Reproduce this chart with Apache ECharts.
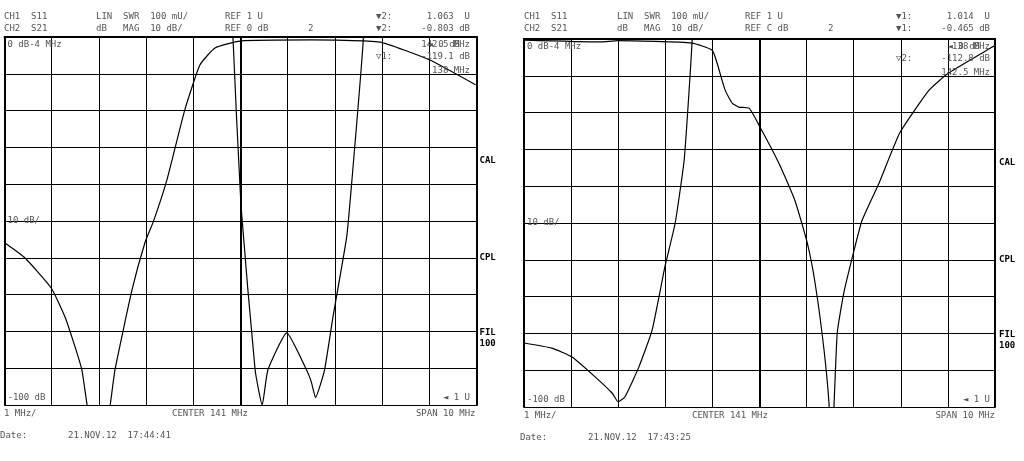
<!DOCTYPE html>
<html>
<head>
<meta charset="utf-8">
<script src="https://cdn.jsdelivr.net/npm/echarts@6/dist/echarts.min.js"></script>
<style>
  html, body { margin: 0; padding: 0; background: #fff; }
  #main { width: 1024px; height: 461px; }
</style>
</head>
<body>
<div id="main"></div>
<script>
// frequency axis (MHz) and scales
let freqTicks = [136, 137, 138, 139, 140, 141, 142, 143, 144, 145, 146]
let dbRange = [-100, 0]
let swrRange = [1, 2]

// left screen, 17:44:41
let leftS21 = [
  [136.01, -56], [136.43, -60], [136.99, -68.2], [137.28, -76], [137.49, -84],
  [137.64, -90.5], [137.75, -100], [138.0, -119.1], [138.24, -100], [138.34, -90.5],
  [138.70, -68.8], [138.98, -55.7], [139.15, -50.3], [139.44, -38.9], [139.82, -19.8],
  [140.14, -7.6], [140.46, -3], [140.99, -1.1], [142.5, -0.8], [143.95, -1.4],
  [145.0, -6.2], [145.98, -13]
]
let leftSwr = [
  [140.8, 2.2], [140.84, 2.0], [141.01, 1.543], [141.31, 1.095], [141.46, 1.0],
  [141.58, 1.095], [141.98, 1.196], [142.40, 1.095], [142.5, 1.063], [142.59, 1.02],
  [142.78, 1.095], [142.96, 1.24], [143.25, 1.457], [143.36, 1.61], [143.6, 1.99],
  [143.62, 2.2]
]

// right screen, 17:43:25
let rightS21 = [
  [136.0, -0.3], [137.61, -0.8], [138.0, -0.465], [139.57, -1.1], [139.99, -3], [140.08, -5.7],
  [140.27, -13.9], [140.42, -17.4], [140.56, -18.5], [140.78, -18.8], [141.01, -23.9],
  [141.41, -33.7], [141.75, -43.8], [142.01, -55.2], [142.18, -66.3], [142.37, -84.5],
  [142.48, -100], [142.5, -112.8], [142.58, -100], [142.65, -79.9], [142.79, -69],
  [143.01, -57.3], [143.18, -49.2], [143.54, -39.1], [143.98, -25.5], [144.6, -13.9],
  [145.02, -9.2], [145.94, -2.2], [146.0, -1.8]
]
let rightSwr = [
  [136.0, 1.174], [136.59, 1.16], [137.02, 1.136], [137.51, 1.082], [137.87, 1.038],
  [138.0, 1.014], [138.14, 1.027], [138.44, 1.109], [138.72, 1.209], [138.99, 1.38],
  [139.21, 1.5], [139.40, 1.67], [139.5, 1.85], [139.57, 2.0], [139.6, 2.2]
]

let mono = '"DejaVu Sans Mono", monospace'
let grey = '#555'

function xAx(gi) {
  return {
    type: 'value', gridIndex: gi, min: freqTicks[0], max: freqTicks[freqTicks.length - 1], interval: 1,
    axisLine: { lineStyle: { color: '#000', width: 2 } },
    axisTick: { show: false }, axisLabel: { show: false },
    splitLine: { lineStyle: { color: '#000', width: 1 } }
  }
}
function yDb(gi) {
  return {
    type: 'value', gridIndex: gi, min: dbRange[0], max: dbRange[1], interval: 10,
    axisLine: { show: true, lineStyle: { color: '#000', width: 2 } },
    axisTick: { show: false }, axisLabel: { show: false },
    splitLine: { lineStyle: { color: '#000', width: 1 } }
  }
}
function ySwr(gi) {
  return {
    type: 'value', gridIndex: gi, min: swrRange[0], max: swrRange[1], position: 'right',
    axisLine: { show: true, lineStyle: { color: '#000', width: 2 } },
    axisTick: { show: false }, axisLabel: { show: false }, splitLine: { show: false }
  }
}
function trace(data, xi, yi, center) {
  let s = {
    type: 'line', xAxisIndex: xi, yAxisIndex: yi, data: data, smooth: 0.15,
    symbol: 'none', lineStyle: { color: '#000', width: 1.2 }, clip: true, animation: false
  }
  if (center) {
    s.markLine = {
      silent: true, symbol: 'none', label: { show: false },
      lineStyle: { color: '#000', width: 2, type: 'solid' },
      data: [{ xAxis: 141 }]
    }
  }
  return s
}
function txt(x, y, s, opt) {
  return {
    type: 'text', left: x, top: y, z: 100,
    style: Object.assign({ text: s, font: '9px ' + mono, fill: grey }, opt || {})
  }
}
function rtxt(x, y, s, opt) {
  return {
    type: 'text', right: 1024 - x, top: y, z: 100,
    style: Object.assign({ text: s, font: '9px ' + mono, fill: grey, align: 'right' }, opt || {})
  }
}
function screen(ox, gx, gy, o) {
  let bold = { font: 'bold 9px ' + mono, fill: '#000' }
  return [
    txt(ox + 4, 12, 'CH1  S11'), txt(ox + 4, 24, 'CH2  S21'),
    txt(ox + o.lin, 12, 'LIN  SWR  100 mU/'), txt(ox + o.lin, 24, 'dB   MAG  10 dB/'),
    txt(ox + o.ref, 12, 'REF 1 U'), txt(ox + o.ref, 24, o.ref2),
    txt(ox + o.m2, 24, '2'),
    txt(ox + o.mk, 12, o.mk1), txt(ox + o.mk, 24, o.mk1),
    rtxt(ox + o.re, 12, o.v1), rtxt(ox + o.re, 24, o.v2),
    txt(gx + 3, gy + 3, '0 dB-4 MHz'),
    rtxt(ox + o.re, gy + 3, o.f1), rtxt(ox + o.re - 10, gy + 3, '◄ 0 dB'),
    txt(ox + o.mk, gy + 15, o.mk2), rtxt(ox + o.re, gy + 15, o.v3),
    rtxt(ox + o.re, gy + 29, o.f2),
    txt(gx + 3, gy + 179, '10 dB/'),
    txt(gx + 3, gy + 356, '-100 dB'), rtxt(ox + o.re, gy + 356, '◄ 1 U'),
    txt(ox + 4, gy + 372, '1 MHz/'), txt(ox + o.ctr, gy + 372, 'CENTER 141 MHz'),
    rtxt(gx + 471, gy + 372, 'SPAN 10 MHz'),
    txt(ox, gy + 394, 'Date:'), txt(ox + 68, gy + 394, o.date),
    txt(gx + 475, gy + 119, 'CAL', bold), txt(gx + 475, gy + 216, 'CPL', bold),
    txt(gx + 475, gy + 291, 'FIL', bold), txt(gx + 475, gy + 302, '100', bold)
  ]
}

let chart = echarts.init(document.getElementById('main'), null, { renderer: 'canvas' })
chart.setOption({
  backgroundColor: '#fff',
  animation: false,
  grid: [
    { left: 4.5, top: 37, width: 472, height: 368 },
    { left: 524, top: 39, width: 471, height: 368 }
  ],
  xAxis: [xAx(0), xAx(1)],
  yAxis: [yDb(0), ySwr(0), yDb(1), ySwr(1)],
  series: [
    trace(leftS21, 0, 0, true), trace(leftSwr, 0, 1),
    trace(rightS21, 1, 2, true), trace(rightSwr, 1, 3)
  ],
  graphic: screen(0, 4.5, 37, {
    lin: 96, ref: 225, ref2: 'REF 0 dB', m2: 308, mk: 376, re: 470,
    mk1: '▼2:', v1: '1.063  U', v2: '-0.803 dB', f1: '142.5 MHz', mk2: '▽1:',
    v3: '-119.1 dB', f2: '138 MHz', ctr: 172, date: '21.NOV.12  17:44:41'
  }).concat(screen(520, 524, 39, {
    lin: 97, ref: 225, ref2: 'REF C dB', m2: 308, mk: 376, re: 470,
    mk1: '▼1:', v1: '1.014  U', v2: '-0.465 dB', f1: '138 MHz', mk2: '▽2:',
    v3: '-112.8 dB', f2: '142.5 MHz', ctr: 172, date: '21.NOV.12  17:43:25'
  }))
})
</script>
</body>
</html>
